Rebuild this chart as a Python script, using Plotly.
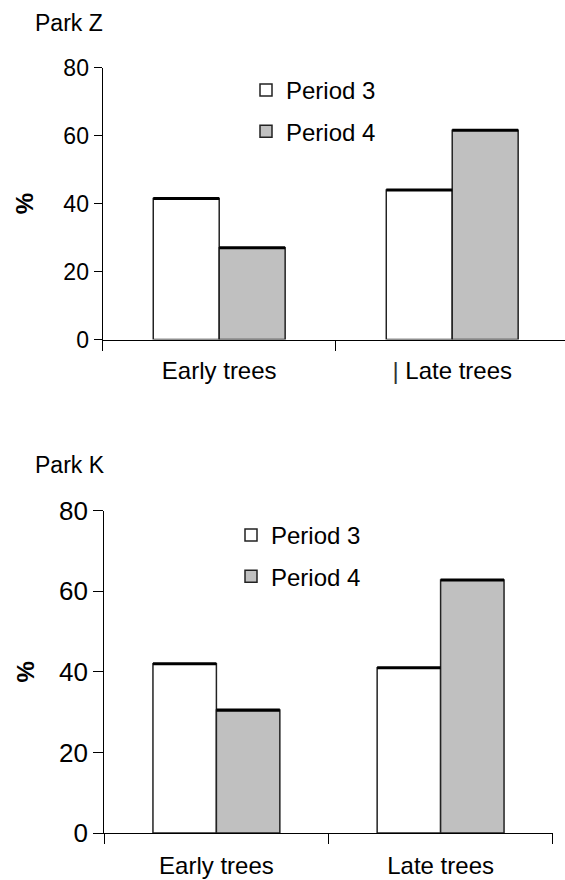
import plotly.graph_objects as go

# ---------------- data ----------------
categories = ["Early trees", "Late trees"]
top_title = "Park Z"
bottom_title = "Park K"
series_names = ["Period 3", "Period 4"]

park_z_period3 = [41.5, 44]
park_z_period4 = [27, 61.6]
park_k_period3 = [42, 41]
park_k_period4 = [30.5, 62.8]

y_ticks = [0, 20, 40, 60, 80]
top_ticktext = ["Early trees", "<span style='color:#333'>|</span> Late trees"]
bottom_ticktext = ["Early trees", "Late trees"]

# ---------------- style ----------------
FONT = "Liberation Sans, Arial, sans-serif"
FILL3 = "#FFFFFF"
FILL4 = "#C0C0C0"
EDGE = "#222222"

fig = go.Figure()


def add_chart(xa, ya, p3, p4, legend, cap):
    for name, vals, fill, grp in ((series_names[0], p3, FILL3, "p3"),
                                  (series_names[1], p4, FILL4, "p4")):
        fig.add_trace(go.Bar(
            x=categories, y=vals, name=name, offsetgroup=grp,
            marker=dict(color=fill, line=dict(color=EDGE, width=1.5)),
            xaxis=xa, yaxis=ya, legend=legend, legendgroup=legend + grp,
            hoverinfo="skip",
        ))
    # thick top edges
    for vals, grp in ((p3, "p3"), (p4, "p4")):
        fig.add_trace(go.Bar(
            x=categories, y=[cap] * len(vals), base=[v - cap / 2 for v in vals],
            offsetgroup=grp, marker=dict(color="#000000", line=dict(width=0)),
            xaxis=xa, yaxis=ya, showlegend=False, hoverinfo="skip",
        ))


add_chart("x", "y", park_z_period3, park_z_period4, "legend", 0.9)
add_chart("x2", "y2", park_k_period3, park_k_period4, "legend2", 0.75)

W, H = 565, 880


def px_x(v):
    return v / W


def px_y(v):
    return 1 - v / H


axis_common = dict(showgrid=False, zeroline=False, showline=True,
                   linecolor="#000000", linewidth=1.3, ticks="outside",
                   tickcolor="#000000", tickwidth=1.3, fixedrange=True,
                   automargin=False)

fig.update_layout(
    width=W, height=H,
    margin=dict(l=0, r=0, t=0, b=0, pad=0, autoexpand=False),
    paper_bgcolor="white", plot_bgcolor="white",
    font=dict(family=FONT, color="#000000"),
    barmode="group", bargap=0.434,
    xaxis=dict(domain=[px_x(102.7), 1], range=[-0.5, 1.484], type="category",
               anchor="y", tickson="boundaries", ticklen=10,
               tickvals=categories, ticktext=top_ticktext,
               tickfont=dict(size=24), ticklabelstandoff=10, **axis_common),
    yaxis=dict(domain=[px_y(339.5), px_y(67.7)], range=[0, 80], anchor="x",
               tickvals=y_ticks, ticklen=8, tickfont=dict(size=23),
               ticklabelstandoff=0,
               title=dict(text="<b>%</b>", font=dict(size=24), standoff=22),
               **axis_common),
    xaxis2=dict(domain=[px_x(104.3), px_x(552.7)], range=[-0.5, 1.5], type="category",
                anchor="y2", tickson="boundaries", ticklen=10,
                tickvals=categories, ticktext=bottom_ticktext,
                tickfont=dict(size=24), ticklabelstandoff=11, **axis_common),
    yaxis2=dict(domain=[px_y(833), px_y(510.7)], range=[0, 80], anchor="x2",
                tickvals=y_ticks, ticklen=10, tickfont=dict(size=26),
                ticklabelstandoff=0,
                title=dict(text="<b>%</b>", font=dict(size=24), standoff=17),
                **axis_common),
    legend=dict(x=px_x(246), xanchor="left", y=px_y(68), yanchor="top",
                font=dict(size=24), bgcolor="rgba(0,0,0,0)",
                tracegroupgap=7, traceorder="grouped", itemclick=False),
    legend2=dict(x=px_x(231), xanchor="left", y=px_y(513), yanchor="top",
                 font=dict(size=24), bgcolor="rgba(0,0,0,0)",
                 tracegroupgap=7, traceorder="grouped", itemclick=False),
    annotations=[
        dict(text=top_title, xref="paper", yref="paper", x=px_x(33), y=px_y(23),
             xanchor="left", yanchor="middle", showarrow=False, font=dict(size=23)),
        dict(text=bottom_title, xref="paper", yref="paper", x=px_x(33), y=px_y(465),
             xanchor="left", yanchor="middle", showarrow=False, font=dict(size=23)),
    ],
)

fig.write_html("out.html", config={"displayModeBar": False},
               post_script="document.body.style.margin='0';document.body.style.padding='0';")
